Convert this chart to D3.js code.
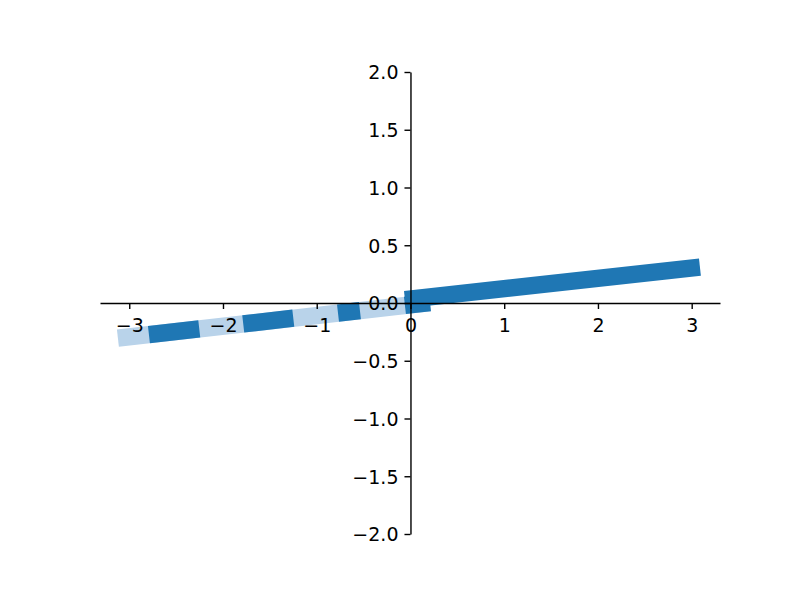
<!DOCTYPE html>
<html>
<head>
<meta charset="utf-8">
<script src="https://cdn.jsdelivr.net/npm/d3@7"></script>
<style>
  body { margin: 0; background: #fff; }
  text { font-family: "DejaVu Sans", sans-serif; }
</style>
</head>
<body>
<script>
// figure size
var svgWidth = 800
var svgHeight = 600

// data
var dashedX = [-3.121, 0.208]
var dashedY = [-0.305, 0.004]
// where the dashes flip between gap colour and line colour (starts with a gap)
var dashBreaks = [-3.121, -2.790, -2.253, -1.784, -1.250, -0.773, -0.539, -0.059, 0.208]
var solidX = [-0.059, 3.088]
var solidY = [0.03, 0.31]

var xTicks = [-3, -2, -1, 0, 1, 2, 3]
var yTicks = [-2.0, -1.5, -1.0, -0.5, 0.0, 0.5, 1.0, 1.5, 2.0]

var lineColor = "#1f77b4"
var gapColor = "#b9d3ea"
var lineWidth = 17.4
var fontSize = 19
var tickLen = 6
var tickPad = 6

var svg = d3.select("body").append("svg")
    .attr("width", svgWidth)
    .attr("height", svgHeight)

var x = d3.scaleLinear().domain([-3.312, 3.302]).range([100, 720])
var y = d3.scaleLinear().domain([-2, 2]).range([534, 72])

var line = d3.line()
    .x(function(d) { return x(d[0]) })
    .y(function(d) { return y(d[1]) })

var dashedPts = d3.zip(dashedX, dashedY)
var solidPts = d3.zip(solidX, solidY)

var lines = svg.append("g")

// gap colour underneath
lines.append("path")
    .attr("d", line(dashedPts))
    .attr("fill", "none")
    .attr("stroke", gapColor)
    .attr("stroke-width", lineWidth)
    .attr("stroke-linecap", "butt")

// dashes on top
var dashPath = lines.append("path")
    .attr("d", line(dashedPts))
    .attr("fill", "none")
    .attr("stroke", lineColor)
    .attr("stroke-width", lineWidth)
    .attr("stroke-linecap", "butt")

var total = dashPath.node().getTotalLength()
var pxSpan = x(dashedX[1]) - x(dashedX[0])
var k = total / pxSpan
var pattern = [0]
for (var i = 1; i < dashBreaks.length; i++) {
    pattern.push((x(dashBreaks[i]) - x(dashBreaks[i - 1])) * k)
}
pattern.push(total) // keep the pattern from repeating
dashPath.attr("stroke-dasharray", pattern.join(","))

// solid line
lines.append("path")
    .attr("d", line(solidPts))
    .attr("fill", "none")
    .attr("stroke", lineColor)
    .attr("stroke-width", lineWidth)
    .attr("stroke-linecap", "butt")

// spines through zero
var fmtX = function(d) { return d3.format("d")(d).replace("-", "\u2212") }
var fmtY = function(d) { return d3.format(".1f")(d).replace("-", "\u2212") }

var xAxis = svg.append("g")
    .attr("transform", "translate(0," + y(0) + ")")
    .call(d3.axisBottom(x).tickValues(xTicks).tickFormat(fmtX)
        .tickSizeInner(tickLen).tickSizeOuter(0).tickPadding(tickPad))

var yAxis = svg.append("g")
    .attr("transform", "translate(" + x(0) + ",0)")
    .call(d3.axisLeft(y).tickValues(yTicks).tickFormat(fmtY)
        .tickSizeInner(tickLen).tickSizeOuter(0).tickPadding(tickPad))

svg.selectAll(".domain").attr("stroke", "#000").attr("stroke-width", 1.4)
svg.selectAll(".tick line").attr("stroke", "#000").attr("stroke-width", 1.4)
svg.selectAll(".tick text")
    .attr("fill", "#000")
    .style("font-size", fontSize + "px")
    .style("font-family", "DejaVu Sans, sans-serif")

xAxis.selectAll(".tick text").attr("dy", "0.9em")
yAxis.selectAll(".tick text").attr("dy", "0.36em")
</script>
</body>
</html>
